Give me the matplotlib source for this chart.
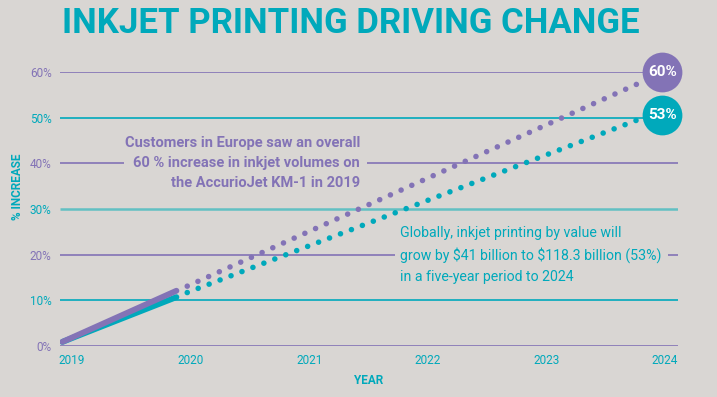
import matplotlib.pyplot as plt
import numpy as np

# chart data
years = [2019, 2020, 2021, 2022, 2023, 2024]
grid_levels = [0, 10, 20, 30, 40, 50, 60]
tick_labels = ['0%', '10%', '20%', '30%', '40%', '50%', '60%']

solid_x = [2019.0, 2019.95]
europe_solid = [0.9, 12.1]
global_solid = [0.9, 10.7]

dotted_x = [2020.04, 2023.80]
europe_dotted = [13.1, 57.5]
global_dotted = [11.7, 49.6]

end_labels = ['60%', '53%']

PURPLE = '#8373B6'
TEAL = '#00A9BB'
TEAL_LIGHT = '#62C0C3'
BG = '#D9D6D3'

plt.rcParams['font.family'] = ['Roboto', 'DejaVu Sans']

fig = plt.figure(figsize=(7.17, 3.97), dpi=100, facecolor=BG)
ax = fig.add_axes([0.0837, 0.1285, 0.862, 0.690], facecolor=BG)
ax.set_xlim(2018.98, 2024.13)
ax.set_ylim(0, 60)
for s in ax.spines.values():
    s.set_visible(False)

# gridlines, alternating colours, some broken by the notes
grid_colors = [PURPLE, TEAL, PURPLE, TEAL_LIGHT, PURPLE, TEAL, PURPLE]
grid_widths = [1.2, 1.2, 1.2, 1.8, 1.2, 1.2, 1.2]
xmin, xmax = 2018.98, 2024.13
for lvl, c, w in zip(grid_levels, grid_colors, grid_widths):
    if lvl == 40:
        segs = [(xmin, 2019.51), (2021.54, xmax)]
    elif lvl == 20:
        segs = [(xmin, 2021.77), (2024.05, xmax)]
    else:
        segs = [(xmin, xmax)]
    for a, b in segs:
        ax.plot([a, b], [lvl, lvl], color=c, lw=w, solid_capstyle='butt', zorder=1)

# lines
dots = (0, (0.01, 2.1))
ax.plot(solid_x, global_solid, color=TEAL, lw=4.2, solid_capstyle='round', zorder=3)
ax.plot(solid_x, europe_solid, color=PURPLE, lw=4.2, solid_capstyle='round', zorder=4)
ax.plot(dotted_x, global_dotted, color=TEAL, lw=4.0, linestyle=dots,
        dash_capstyle='round', zorder=3)
ax.plot(dotted_x, europe_dotted, color=PURPLE, lw=4.0, linestyle=dots,
        dash_capstyle='round', zorder=4)

# end badges
ax.scatter([2024.0], [60], s=820, color=PURPLE, zorder=5, clip_on=False, linewidths=0)
ax.scatter([2024.0], [50.6], s=820, color=TEAL, zorder=5, clip_on=False, linewidths=0)
ax.text(2024.0, 60, end_labels[0], color='white', fontsize=11, fontweight='bold',
        ha='center', va='center', zorder=6)
ax.text(2024.0, 50.6, end_labels[1], color='white', fontsize=11, fontweight='bold',
        ha='center', va='center', zorder=6)

# y ticks
ax.set_yticks(grid_levels)
ax.set_yticklabels(tick_labels)
ax.tick_params(axis='y', length=0, pad=6, labelsize=8.5)
for lbl, c in zip(ax.get_yticklabels(), grid_colors):
    lbl.set_color(c if c != TEAL_LIGHT else TEAL)

# x ticks spread evenly from left to right edge
ax.set_xticks(np.linspace(2019.08, 2024.02, len(years)))
ax.set_xticklabels([str(y) for y in years])
ax.tick_params(axis='x', length=0, pad=6, labelsize=8.5, labelcolor=TEAL)

ax.set_xlabel('YEAR', color=TEAL, fontsize=8.5, fontweight='bold', labelpad=5)
fig.text(0.024, 0.53, '% INCREASE', color=TEAL, fontsize=8.5, fontweight='bold',
         rotation=90, ha='center', va='center')

# notes
ax.text(2021.48, 40, 'Customers in Europe saw an overall\n60 % increase in inkjet volumes on\nthe AccurioJet KM-1 in 2019',
        color=PURPLE, fontsize=10.5, fontweight='bold', ha='right', va='center',
        linespacing=1.55, zorder=2)
ax.text(2021.815, 20, 'Globally, inkjet printing by value will\ngrow by \\$41 billion to \\$118.3 billion (53%)\nin a five-year period to 2024',
        color=TEAL, fontsize=10.2, ha='left', va='center', linespacing=1.6, zorder=2)

fig.text(0.086, 0.942, 'INKJET PRINTING DRIVING CHANGE', color=TEAL, fontsize=25,
         fontweight='bold', ha='left', va='center')

fig.savefig('out.png', dpi=100, facecolor=BG)
